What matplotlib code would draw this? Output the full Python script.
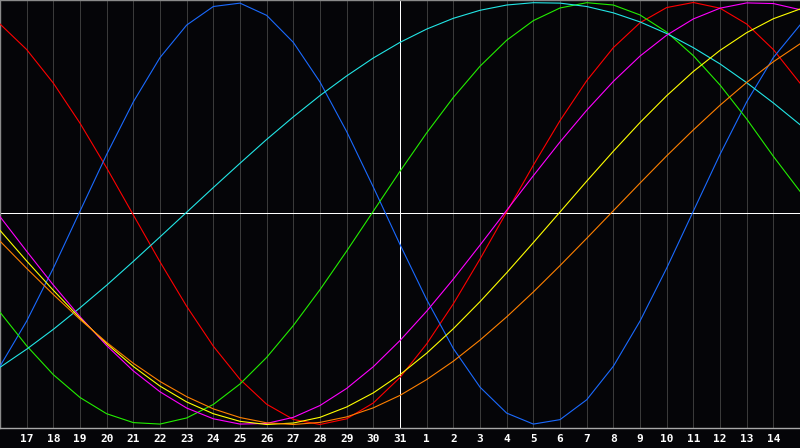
import matplotlib
matplotlib.use("Agg")
import matplotlib.pyplot as plt

# Calendar days shown (one per column, first and last are the half-visible edges)
days = [16, 17, 18, 19, 20, 21, 22, 23, 24, 25, 26, 27, 28, 29, 30, 31,
        1, 2, 3, 4, 5, 6, 7, 8, 9, 10, 11, 12, 13, 14, 15]
today_index = 15  # the "31" column

# Curve values in percent (-100 .. 100) at each day above
blue = [-72.4, -51.0, -25.9, 1.1, 28.0, 52.9, 73.9, 89.3, 98.1, 99.7, 93.9,
        81.1, 62.3, 38.8, 12.5, -14.7, -40.8, -64.0, -82.3, -94.6, -99.8,
        -97.7, -88.3, -72.4, -51.0, -25.9, 1.1, 28.0, 52.9, 73.9, 89.3]
red = [89.8, 77.7, 61.8, 42.8, 21.6, -0.7, -22.9, -44.0, -62.9, -78.6, -90.4,
       -97.6, -100.0, -97.3, -89.8, -77.7, -61.8, -42.8, -21.6, 0.7, 22.9,
       44.0, 62.9, 78.6, 90.4, 97.6, 100.0, 97.3, 89.8, 77.7, 61.8]
green = [-46.8, -62.7, -76.4, -87.2, -94.9, -99.1, -99.8, -96.9, -90.5, -80.8,
         -68.2, -53.1, -36.1, -17.8, 1.1, 20.0, 38.2, 55.0, 69.8, 82.1, 91.4,
         97.4, 99.9, 98.8, 94.1, 86.0, 74.8, 60.9, 44.8, 27.1, 10.5]
cyan = [-72.9, -64.3, -54.9, -44.7, -34.0, -22.7, -11.1, 0.6, 12.3, 23.8, 35.1,
        45.8, 55.9, 65.2, 73.7, 81.1, 87.4, 92.5, 96.3, 98.8, 99.9, 99.7, 98.1,
        95.1, 90.8, 85.3, 78.6, 70.9, 62.0, 52.4, 42.1]
magenta = [-1.5, -17.9, -33.9, -48.9, -62.6, -74.6, -84.5, -92.2, -97.3, -99.8,
           -99.5, -96.6, -91.0, -82.9, -72.6, -60.2, -46.3, -31.1, -15.0, 1.5,
           17.9, 33.9, 48.9, 62.6, 74.6, 84.5, 92.2, 97.3, 99.8, 99.5, 96.6]
yellow = [-8.0, -22.5, -36.4, -49.6, -61.7, -72.5, -81.8, -89.3, -94.9, -98.5,
          -100.0, -99.3, -96.6, -91.7, -85.0, -76.4, -66.2, -54.6, -41.8, -28.1,
          -13.8, 0.7, 15.3, 29.5, 43.1, 55.8, 67.3, 77.3, 85.7, 92.3, 96.9]
orange = [-13.1, -26.0, -38.4, -50.2, -61.1, -71.0, -79.6, -86.8, -92.6, -96.7,
          -99.2, -100.0, -99.0, -96.4, -92.1, -86.2, -78.7, -70.0, -60.0, -49.0,
          -37.2, -24.7, -11.8, 1.3, 14.4, 27.3, 39.6, 51.3, 62.1, 71.9, 80.4]

series = [
    (red, "#ff0000"),
    (blue, "#1a6aff"),
    (green, "#22ee00"),
    (cyan, "#22e6e6"),
    (magenta, "#ff00ff"),
    (yellow, "#ffff00"),
    (orange, "#ff8000"),
]

BG = "#050508"
fig = plt.figure(figsize=(8.0, 4.48), dpi=100, facecolor=BG)
ax = fig.add_axes([0.0, 20 / 448, 1.0, 428 / 448], facecolor=BG)

x = list(range(len(days)))
ax.set_xlim(0, len(days) - 1)
ax.set_ylim(-101.66, 101.18)

# day grid
ax.vlines(x[1:-1], -101.66, 101.18, colors="#3a3a3a", linewidth=0.5,
          antialiased=False, zorder=1)
# centre lines
ax.axhline(0, color="#ffffff", linewidth=0.6, antialiased=False, zorder=2)
ax.axvline(x[today_index], color="#ffffff", linewidth=0.6, antialiased=False, zorder=2)

for vals, col in series:
    ax.plot(x, vals, color=col, linewidth=0.8, antialiased=True, zorder=3)

ax.set_yticks([])
ax.set_xticks(x[1:-1])
ax.set_xticklabels([str(d) for d in days[1:-1]], color="white",
                   fontfamily="DejaVu Sans Mono", fontweight="bold", fontsize=8)
ax.tick_params(axis="x", length=0, pad=4.5)

for side in ("left", "top"):
    ax.spines[side].set_color("#8a8a8a")
    ax.spines[side].set_linewidth(1.0)
ax.spines["bottom"].set_color("#a8a8a8")
ax.spines["bottom"].set_linewidth(1.0)
ax.spines["right"].set_visible(False)

fig.savefig("out.png", dpi=100, facecolor=BG)
